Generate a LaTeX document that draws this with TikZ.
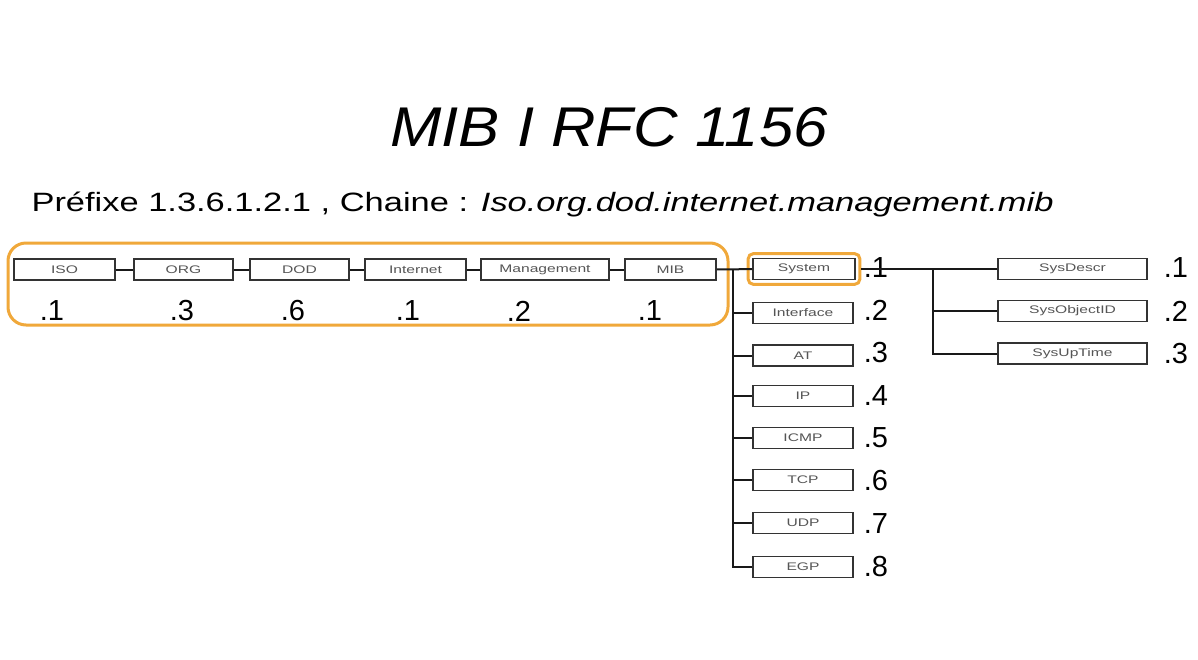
\documentclass[tikz,border=0pt]{standalone}
\usepackage{fontspec}
\setmainfont{Liberation Sans}
\usetikzlibrary{fit}
\definecolor{mibor}{HTML}{F0A83A}
\definecolor{boxtxt}{HTML}{555555}
\newcommand{\bt}[1]{\scalebox{1.42}[1]{#1}}
\tikzset{
  box/.style={draw=black!80, line width=1.6pt, minimum height=21pt, inner sep=0pt,
    font=\fontsize{11}{12}\selectfont, text=boxtxt},
  num/.style={font=\fontsize{29}{30}\selectfont, inner sep=0pt},
  conn/.style={line width=2pt, black!90},
  hl/.style={draw=mibor, line width=3pt}
}
\begin{document}
\begin{tikzpicture}[x=1pt,y=-1pt]
\useasboundingbox[fill=white] (0,0) rectangle (1198,659);
% title
\node[font=\fontsize{56}{60}\selectfont\itshape] (title) at (609,127) {\scalebox{1.1}[1]{MIB I RFC 1156}};
\node[anchor=base west, font=\fontsize{26.5}{28}\selectfont] (sub) at (28,211)
  {\scalebox{1.3}[1]{Préfixe 1.3.6.1.2.1 , Chaine : \textit{Iso.org.dod.internet.management.mib}}};
% top row
\node[box, minimum width=101pt] (iso) at (64.5,269.5) {\bt{ISO}};
\node[box, minimum width=99pt] (org) at (183.5,269.5) {\bt{ORG}};
\node[box, minimum width=99pt] (dod) at (299.5,269.5) {\bt{DOD}};
\node[box, minimum width=101pt] (inet) at (415.5,269.5) {\bt{Internet}};
\node[box, minimum width=128pt] (mgmt) at (545,269.5) {\bt{Management}};
\node[box, minimum width=91pt] (mib) at (670.5,269.5) {\bt{MIB}};
\draw[conn] (iso) -- (org);
\draw[conn] (org) -- (dod);
\draw[conn] (dod) -- (inet);
\draw[conn] (inet) -- (mgmt);
\draw[conn] (mgmt) -- (mib);
\node[num] (n1) at (52,311) {.1};
\node[num] (n2) at (182,311) {.3};
\node[num] (n3) at (293,311) {.6};
\node[num] (n4) at (408,311) {.1};
\node[num] (n5) at (519,311) {.2};
\node[num] (n6) at (650,311) {.1};
\draw[hl, rounded corners=18pt] (8,243) rectangle (728,325);
% mib subtree
\node[box, minimum width=102pt] (system) at (804,269) {\bt{System}};
\node[box, minimum width=100pt] (interface) at (803,313) {\bt{Interface}};
\node[box, minimum width=100pt] (at) at (803,355.5) {\bt{AT}};
\node[box, minimum width=100pt] (ip) at (803,396) {\bt{IP}};
\node[box, minimum width=100pt] (icmp) at (803,438) {\bt{ICMP}};
\node[box, minimum width=100pt] (tcp) at (803,480) {\bt{TCP}};
\node[box, minimum width=100pt] (udp) at (803,523) {\bt{UDP}};
\node[box, minimum width=100pt] (egp) at (803,567) {\bt{EGP}};
\node[hl, rounded corners=5pt, fit=(system), inner sep=4pt] (syshl) {};
\coordinate (t0) at (733,269);
\draw[conn] (mib) -- (system);
\foreach \n in {interface,at,ip,icmp,tcp,udp,egp} \draw[conn] (t0) |- (\n.west);
\node[num] (s1) at (876,268) {.1};
\node[num] (s2) at (876,310) {.2};
\node[num] (s3) at (876,353) {.3};
\node[num] (s4) at (876,396) {.4};
\node[num] (s5) at (876,438) {.5};
\node[num] (s6) at (876,481) {.6};
\node[num] (s7) at (876,524) {.7};
\node[num] (s8) at (876,567) {.8};
% system subtree
\node[box, minimum width=149pt] (sysdescr) at (1072.5,269) {\bt{SysDescr}};
\node[box, minimum width=149pt] (sysobj) at (1072.5,311) {\bt{SysObjectID}};
\node[box, minimum width=149pt] (sysup) at (1072.5,353.5) {\bt{SysUpTime}};
\coordinate (b0) at (933,268);
\draw[conn] (syshl.east) -- (sysdescr.west);
\draw[conn] (b0) |- (sysobj.west);
\draw[conn] (b0) |- (sysup.west);
\node[num] (r1) at (1176,268) {.1};
\node[num] (r2) at (1176,311) {.2};
\node[num] (r3) at (1176,354) {.3};
\end{tikzpicture}
\end{document}
